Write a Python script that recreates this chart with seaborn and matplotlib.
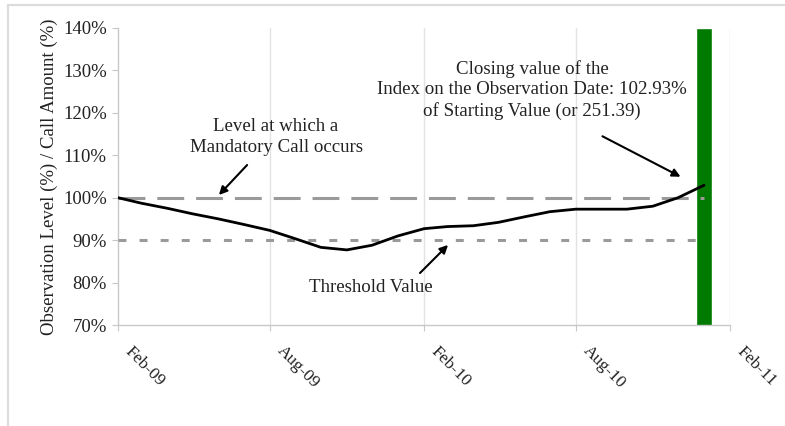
import matplotlib
matplotlib.use("Agg")
import matplotlib.pyplot as plt
import matplotlib.dates as mdates
import matplotlib.transforms as mtransforms
from matplotlib.lines import Line2D
import seaborn as sns
import pandas as pd

# ---- data ----
months = ["2009-02", "2009-03", "2009-04", "2009-05", "2009-06", "2009-07",
          "2009-08", "2009-09", "2009-10", "2009-11", "2009-12", "2010-01",
          "2010-02", "2010-03", "2010-04", "2010-05", "2010-06", "2010-07",
          "2010-08", "2010-09", "2010-10", "2010-11", "2010-12", "2011-01"]
observation_level = [100.0, 98.7, 97.5, 96.2, 95.0, 93.7,
                     92.3, 90.3, 88.3, 87.7, 88.8, 91.0,
                     92.7, 93.2, 93.4, 94.2, 95.5, 96.7,
                     97.3, 97.3, 97.3, 98.0, 100.0, 102.93]
call_level = 100.0
threshold_level = 90.0
observation_date = "2011-01"
call_amount = 140.0
tick_dates = ["2009-02", "2009-08", "2010-02", "2010-08", "2011-02"]
y_ticks = [70, 80, 90, 100, 110, 120, 130, 140]

df = pd.DataFrame({"date": pd.to_datetime(months), "level": observation_level})
df["call"] = call_level
df["threshold"] = threshold_level

sns.set_style("white")
plt.rcParams["font.family"] = ["Liberation Serif", "DejaVu Serif"]

fig = plt.figure(figsize=(7.85, 4.26), dpi=100)
ax = fig.add_axes([118 / 785, 1 - 325 / 426, (730 - 118) / 785, (325 - 28) / 426])

# figure border (left and top)
fig.add_artist(Line2D([8 / 785, 8 / 785], [0, 1 - 5 / 426], transform=fig.transFigure,
                      color="#dcdcdc", lw=1.6))
fig.add_artist(Line2D([8 / 785, 1], [1 - 5 / 426, 1 - 5 / 426], transform=fig.transFigure,
                      color="#dcdcdc", lw=1.6))

# vertical grid
for d in tick_dates[1:]:
    ax.axvline(pd.to_datetime(d), color="#e2e2e2", lw=1, zorder=0)

# bar: call amount on observation date
ax.bar(pd.to_datetime(observation_date), call_amount, width=18, color="#007a00",
       zorder=2)

# reference lines
sns.lineplot(data=df, x="date", y="call", ax=ax, color="#9a9a9a", lw=2.2, zorder=3)
ax.lines[-1].set_dashes((8.8, 3.9))
sns.lineplot(data=df, x="date", y="threshold", ax=ax, color="#9a9a9a", lw=2.2, zorder=3)
ax.lines[-1].set_dashes((2.6, 4.3))

# observation level line
sns.lineplot(data=df, x="date", y="level", ax=ax, color="black", lw=2.0, zorder=4)

ax.set_xlim(pd.to_datetime(tick_dates[0]), pd.to_datetime(tick_dates[-1]))
ax.set_ylim(70, 140)
ax.set_yticks(y_ticks)
ax.set_yticklabels([f"{v}%" for v in y_ticks])
ax.set_xticks(pd.to_datetime(tick_dates))
ax.xaxis.set_major_formatter(mdates.DateFormatter("%b-%y"))

for s in ["top", "right"]:
    ax.spines[s].set_visible(False)
for s in ["left", "bottom"]:
    ax.spines[s].set_color("#c8c8c8")
    ax.spines[s].set_linewidth(1.0)

ax.tick_params(axis="y", which="both", left=True, length=4, color="#c8c8c8",
               labelsize=13.5, pad=4, labelcolor="#222222")
ax.tick_params(axis="x", which="both", bottom=True, length=4, color="#c8c8c8",
               labelsize=12.5, pad=9, labelcolor="#222222")
offset = mtransforms.ScaledTranslation(0.15, 0, fig.dpi_scale_trans)
for lbl in ax.get_xticklabels():
    lbl.set_rotation(-45)
    lbl.set_ha("left")
    lbl.set_va("top")
    lbl.set_rotation_mode("anchor")
    lbl.set_transform(lbl.get_transform() + offset)

ax.set_xlabel("")
ax.set_ylabel("Observation Level (%) / Call Amount (%)", fontsize=13.5,
              color="#222222", labelpad=4)

# annotations
tc = "#222222"
fs = 13.6
ax.annotate("", xy=(217, 426 - 197), xycoords="figure pixels",
            xytext=(249, 426 - 163), textcoords="figure pixels",
            arrowprops=dict(arrowstyle="-|>", color="black", lw=1.5, mutation_scale=12))
fig.text(276 / 785, 1 - 137 / 426, "Level at which a\nMandatory Call occurs",
         ha="center", va="center", fontsize=fs, color=tc, linespacing=1.25)

ax.annotate("", xy=(683, 426 - 178), xycoords="figure pixels",
            xytext=(600, 426 - 135), textcoords="figure pixels",
            arrowprops=dict(arrowstyle="-|>", color="black", lw=1.5, mutation_scale=12))
fig.text(532 / 785, 1 - 90 / 426,
         "Closing value of the\nIndex on the Observation Date: 102.93%\nof Starting Value (or 251.39)",
         ha="center", va="center", fontsize=fs, color=tc, linespacing=1.25)

ax.annotate("", xy=(450, 426 - 243), xycoords="figure pixels",
            xytext=(418, 426 - 275), textcoords="figure pixels",
            arrowprops=dict(arrowstyle="-|>", color="black", lw=1.5, mutation_scale=12))
fig.text(371 / 785, 1 - 287 / 426, "Threshold Value",
         ha="center", va="center", fontsize=fs, color=tc)

fig.savefig("out.png", dpi=100, facecolor="white")
